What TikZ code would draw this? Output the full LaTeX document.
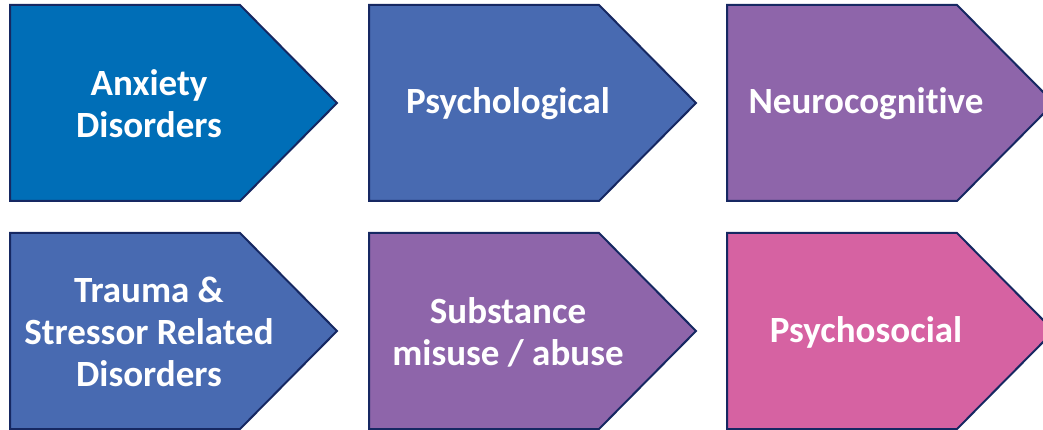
\documentclass[tikz,border=0pt]{standalone}
\usepackage{fontspec}
\setmainfont[Ligatures=NoCommon]{Carlito}
\definecolor{blueA}{RGB}{0,110,183}
\definecolor{blueB}{RGB}{72,106,177}
\definecolor{purpleA}{RGB}{142,101,170}
\definecolor{pinkA}{RGB}{214,98,162}
\definecolor{navyline}{RGB}{22,40,98}
\tikzset{
  chev/.style={draw=navyline,line width=2pt,line join=miter},
  chevtext/.style={text=white,font=\fontsize{37}{42}\selectfont\bfseries,align=center,inner sep=0pt}
}
\begin{document}
\begin{tikzpicture}[x=1pt,y=-1pt]
      \useasboundingbox (0,0) rectangle (1043,430);
      \clip (0,0) rectangle (1043,430);
      \def\w{230} \def\p{97} \def\h{196}
      \foreach \x/\y/\col/\nm/\txt in {
          10/5/blueA/anxiety/{Anxiety\\Disorders},
          369/5/blueB/psychological/{Psychological},
          727/5/purpleA/neurocog/{Neurocognitive},
          10/233/blueB/trauma/{Trauma \&\\Stressor Related\\Disorders},
          369/233/purpleA/substance/{Substance\\misuse / abuse},
          727/233/pinkA/psychosocial/{Psychosocial}}{
        \filldraw[chev,fill=\col] (\x,\y) -- ({\x+\w},\y) -- ({\x+\w+\p},{\y+\h/2})
            -- ({\x+\w},{\y+\h}) -- (\x,{\y+\h}) -- cycle;
        \node[chevtext] (\nm) at ({\x+139},{\y+\h/2+1}) {\txt};
      }
     \end{tikzpicture}
\end{document}
